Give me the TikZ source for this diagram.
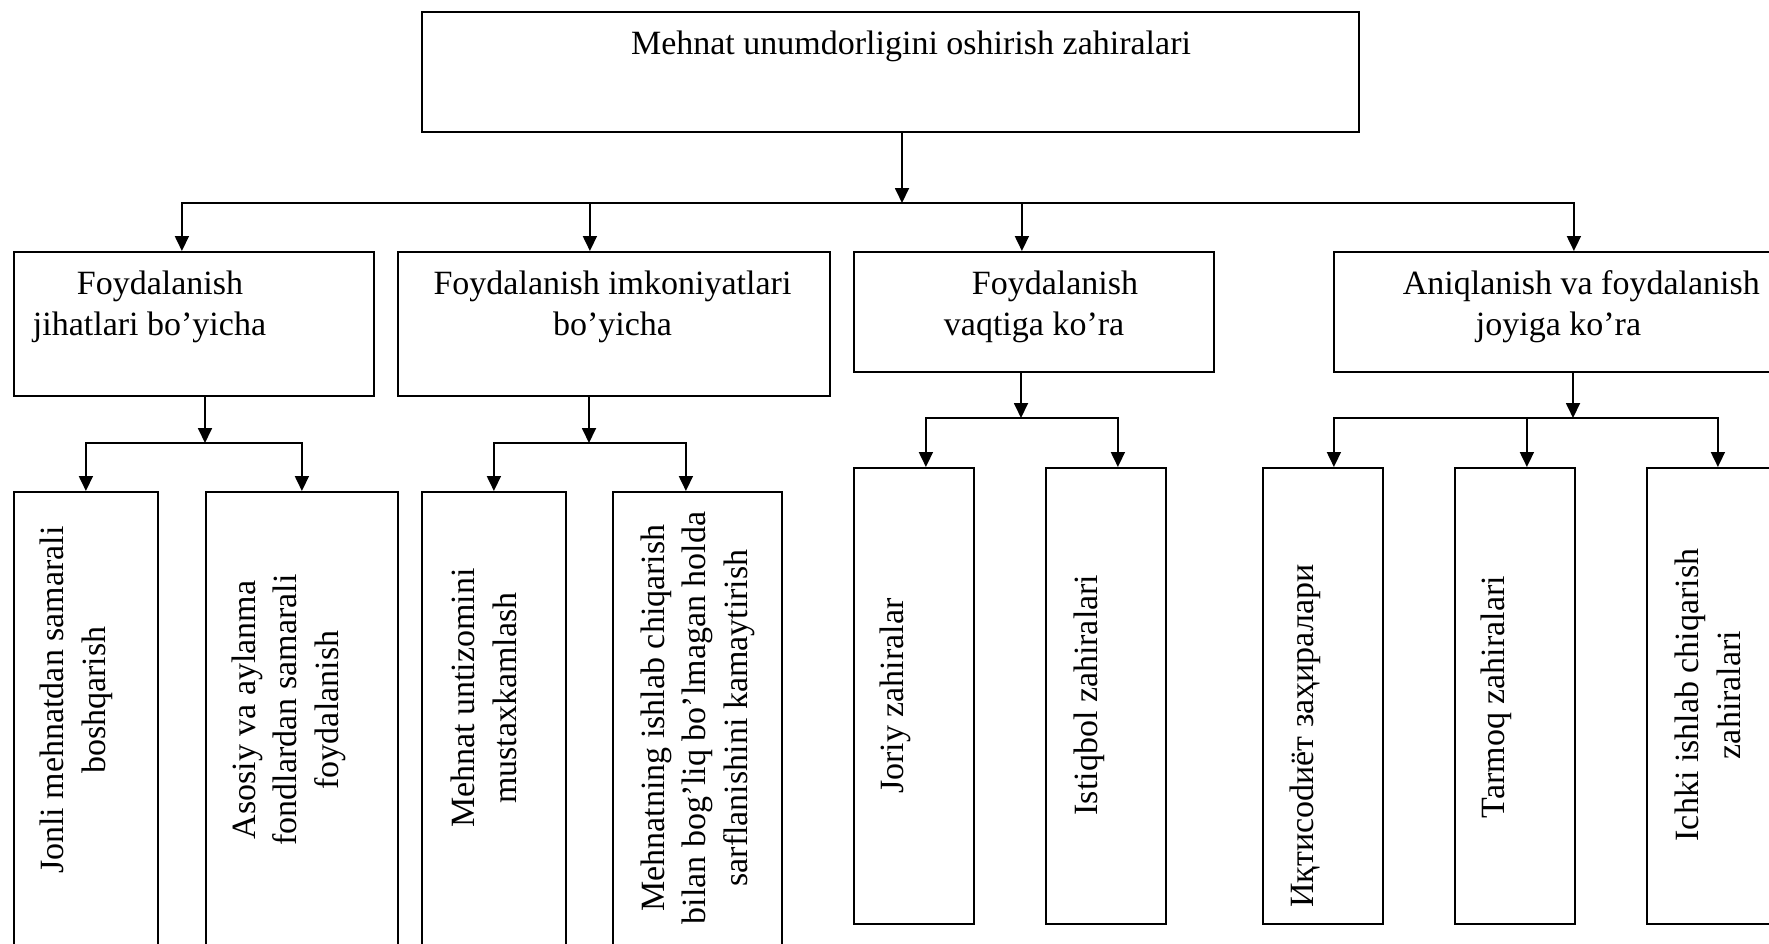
\documentclass[tikz,border=0pt]{standalone}
\usepackage{fontspec}
\setmainfont{Liberation Serif}
\usetikzlibrary{arrows.meta}

\begin{document}
\begin{tikzpicture}[x=1pt, y=-1pt, line width=1.8pt, >={Triangle[width=14pt,length=15pt]},
    box/.style={draw, rectangle, inner sep=0pt, anchor=north west},
    txt/.style={font=\fontsize{34}{41.5}\selectfont, inner sep=0pt},
    vtxt/.style={txt, rotate=90, align=center}]
    \useasboundingbox (0,0) rectangle (1769,943);
    \clip (0,0) rectangle (1769,943);
    \node[box, minimum width=937, minimum height=120] (top) at (421,11) {};
    \foreach \n/\x/\y/\w/\h in {b1/13/251/360/144, b2/397/251/432/144, b3/853/251/360/120, b4/1333/251/480/120,
        s11/13/491/144/470, s12/205/491/192/470, s21/421/491/144/470, s22/612/491/169/470,
        s31/853/467/120/456, s32/1045/467/120/456, s41/1262/467/120/456, s42/1454/467/120/456, s43/1646/467/140/456}
        {\node[box, minimum width=\w, minimum height=\h] (\n) at (\x,\y) {};}
    \node[txt, anchor=north] (t0) at (911,29.6) {Mehnat unumdorligini oshirish zahiralari};
    \node[txt, anchor=north west, align=left] (t1) at (32,269.6) {\hspace*{44pt}Foydalanish\\jihatlari bo’yicha};
    \node[txt, anchor=north, align=center] (t2) at (612.5,269.6) {Foydalanish imkoniyatlari\\bo’yicha};
    \node[txt, anchor=north west, align=left] (t3) at (943,269.6) {\hspace*{28pt}Foydalanish\\vaqtiga ko’ra};
    \node[txt, anchor=north west, align=left] (t4) at (1402,269.6) {Aniqlanish va foydalanish\\\hspace*{73pt}joyiga ko’ra};
    \node[vtxt] (v11) at (76.5,700) {Jonli mehnatdan samarali\\boshqarish};
    \node[vtxt] (v12) at (288.5,710) {Asosiy va aylanma\\fondlardan samarali\\foydalanish};
    \node[vtxt] (v21) at (484,698) {Mehnat untizomini\\mustaxkamlash};
    \node[vtxt] (v22) at (697.5,718) {Mehnatning ishlab chiqarish\\bilan bog’liq bo’lmagan holda\\sarflanishini kamaytirish};
    \node[vtxt] (v31) at (895.5,696) {Joriy zahiralar};
    \node[vtxt] (v32) at (1089,695) {Istiqbol zahiralari};
    \node[vtxt] (v41) at (1305,736) {Иқтисоdиёт заҳиралари};
    \node[vtxt] (v42) at (1496.5,697) {Tarmoq zahiralari};
    \node[vtxt] (v43) at (1708,695) {Ichki ishlab chiqarish\\zahiralari};
    \coordinate (c0) at (902,203);
    \draw[->] (top.south -| c0) -- (c0);
    \foreach \n/\s in {b1/-12, b2/-24, b3/-12, b4/0}
        {\draw[->] (c0) -| ([xshift=\s]\n.north);}
    \foreach \b/\jx/\jy in {b1/205/443, b2/589/443, b3/1021/418, b4/1573/418}
        {\coordinate (j\b) at (\jx,\jy);
         \draw[->] (\b.south -| j\b) -- (j\b);}
    \foreach \j/\n/\s in {b1/s11/0, b1/s12/0, b2/s21/0, b2/s22/-11.5, b3/s31/12, b3/s32/12, b4/s41/11, b4/s42/12, b4/s43/1}
        {\draw[->] (j\j) -| ([xshift=\s]\n.north);}
\end{tikzpicture}
\end{document}
